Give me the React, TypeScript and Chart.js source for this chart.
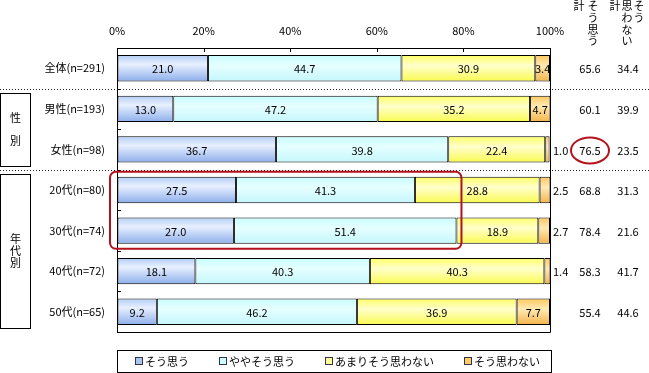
import { useEffect, useRef } from 'react';
import { Chart, registerables } from 'chart.js';

Chart.register(...registerables);

// ---------- data ----------
const categories = ['全体(n=291)', '男性(n=193)', '女性(n=98)', '20代(n=80)', '30代(n=74)', '40代(n=72)', '50代(n=65)'];
const seriesNames = ['そう思う', 'ややそう思う', 'あまりそう思わない', 'そう思わない'];
const soOmou = [21.0, 13.0, 36.7, 27.5, 27.0, 18.1, 9.2];
const yayaSoOmou = [44.7, 47.2, 39.8, 41.3, 51.4, 40.3, 46.2];
const amariSoOmowanai = [30.9, 35.2, 22.4, 28.8, 18.9, 40.3, 36.9];
const soOmowanai = [3.4, 4.7, 1.0, 2.5, 2.7, 1.4, 7.7];
const totalSoOmou = [65.6, 60.1, 76.5, 68.8, 78.4, 58.3, 55.4];
const totalSoOmowanai = [34.4, 39.9, 23.5, 31.3, 21.6, 41.7, 44.6];
const xTickValues = [0, 20, 40, 60, 80, 100];
const headerYesColumns = ['計', 'そう思う'];
const headerNoColumns = ['計', '思わない', 'そう'];
const groupLabels = ['性別', '年代別'];
const groupRows = [[1, 2], [3, 6]];
const separatorAfterRows = [0, 2];
const highlightRows = [3, 4];
const circledRow = 2;

// ---------- styles ----------
const FONT = '"Noto Sans CJK JP", "Noto Sans", sans-serif';
const BAR_PCT = 0.65;
const RED = '#b3121c';
const gradients: [number, string][][] = [
  [[0, '#b2cdf4'], [0.35, '#e8f0ff'], [1, '#8daeea']],
  [[0, '#c8fcff'], [0.4, '#e6ffff'], [1, '#c4f6fc']],
  [[0, '#ffff66'], [0.4, '#ffffcc'], [1, '#fafa50']],
  [[0, '#ffc85e'], [0.4, '#ffeab4'], [1, '#f3b44a']],
];
const legendColors = ['#a9c6f0', '#ccffff', '#ffff99', '#ffcc66'];

const makeBg = (di: number) => (c: any) => {
  const chart = c.chart;
  const ys = chart.scales?.y;
  if (!chart.chartArea || !ys || c.type !== 'data') return legendColors[di];
  const cy = ys.getPixelForValue(c.dataIndex);
  const h = Math.abs(ys.getPixelForValue(1) - ys.getPixelForValue(0)) * BAR_PCT;
  const g = chart.ctx.createLinearGradient(0, cy - h / 2, 0, cy + h / 2);
  gradients[di].forEach(([o, col]) => g.addColorStop(o, col));
  return g;
};

const overlay = {
  id: 'overlay',
  afterDraw(chart: any) {
    const ctx: CanvasRenderingContext2D = chart.ctx;
    const xs = chart.scales.x;
    const ys = chart.scales.y;
    const a = chart.chartArea;
    const W = chart.width;
    const pitch = Math.abs(ys.getPixelForValue(1) - ys.getPixelForValue(0));
    const rowTop = (i: number) => ys.getPixelForValue(i) - pitch / 2;
    const rowBottom = (i: number) => ys.getPixelForValue(i) + pitch / 2;
    const px = (v: number) => Math.round(v) + 0.5;
    ctx.save();
    ctx.strokeStyle = '#000';
    ctx.lineWidth = 1;
    ctx.setLineDash([]);
    // right & bottom border
    ctx.beginPath();
    ctx.moveTo(px(a.right), px(a.top));
    ctx.lineTo(px(a.right), px(a.bottom));
    ctx.lineTo(px(a.left), px(a.bottom));
    ctx.stroke();
    // inward x ticks
    ctx.beginPath();
    xTickValues.slice(1, -1).forEach((v) => {
      const x = px(xs.getPixelForValue(v));
      ctx.moveTo(x, a.top);
      ctx.lineTo(x, a.top + 4);
    });
    // inward y ticks
    for (let i = 0; i < categories.length - 1; i++) {
      const y = px(rowBottom(i));
      ctx.moveTo(a.left, y);
      ctx.lineTo(a.left + 4, y);
    }
    ctx.stroke();

    // dotted separators
    ctx.strokeStyle = '#222';
    ctx.setLineDash([1, 2]);
    ctx.beginPath();
    separatorAfterRows.forEach((r) => {
      const y = px(rowBottom(r));
      ctx.moveTo(0, y);
      ctx.lineTo(W, y);
    });
    ctx.stroke();
    ctx.setLineDash([]);

    // data labels
    ctx.fillStyle = '#000';
    ctx.font = `11px ${FONT}`;
    ctx.textBaseline = 'middle';
    chart.data.datasets.forEach((ds: any, di: number) => {
      const meta = chart.getDatasetMeta(di);
      meta.data.forEach((bar: any, i: number) => {
        const v = ds.data[i];
        const txt = v.toFixed(1);
        if (v < 3) {
          ctx.textAlign = 'left';
          ctx.fillText(txt, a.right + 3, bar.y + 1);
        } else {
          ctx.textAlign = 'center';
          ctx.fillText(txt, (bar.x + bar.base) / 2, bar.y + 1);
        }
      });
    });

    // right columns
    const colYes = a.right + 40;
    const colNo = a.right + 78;
    ctx.textAlign = 'center';
    categories.forEach((_, i) => {
      const y = ys.getPixelForValue(i) + 1;
      ctx.fillText(totalSoOmou[i].toFixed(1), colYes, y);
      ctx.fillText(totalSoOmowanai[i].toFixed(1), colNo, y);
    });
    // vertical headers
    const vText = (s: string, x: number, y0: number) => {
      Array.from(s).forEach((ch, k) => ctx.fillText(ch, x, y0 + k * 11.7));
    };
    headerYesColumns.forEach((s, k) => vText(s, colYes - 11 + k * 14, 6));
    headerNoColumns.forEach((s, k) => vText(s, colNo - 13 + k * 12, 6));

    // group boxes
    groupLabels.forEach((lab, g) => {
      const [r0, r1] = groupRows[g];
      const top = rowTop(r0) + 4;
      const bottom = rowBottom(r1) - 4;
      ctx.strokeStyle = '#000';
      ctx.strokeRect(0.5, px(top), 30, Math.round(bottom - top));
      const n = lab.length;
      const cy = (top + bottom) / 2;
      const sp = n === 2 ? 23 : 12;
      Array.from(lab).forEach((ch, k) => {
        ctx.fillText(ch, 15.5, cy + (k - (n - 1) / 2) * sp);
      });
    });

    // red highlight rectangle
    ctx.strokeStyle = RED;
    ctx.lineWidth = 2;
    const hTop = rowTop(highlightRows[0]) + 2;
    const hBottom = rowBottom(highlightRows[highlightRows.length - 1]) - 2;
    const maxEnd = Math.max(...highlightRows.map((r) => soOmou[r] + yayaSoOmou[r]));
    const hLeft = a.left - 7;
    const hRight = xs.getPixelForValue(maxEnd) + 5;
    ctx.beginPath();
    ctx.roundRect(hLeft, hTop, hRight - hLeft, hBottom - hTop, 6);
    ctx.stroke();
    // red ellipse
    ctx.beginPath();
    ctx.ellipse(colYes, ys.getPixelForValue(circledRow) + 1, 19, 13, 0, 0, Math.PI * 2);
    ctx.stroke();

    // legend
    ctx.lineWidth = 1;
    ctx.strokeStyle = '#000';
    const lTop = a.bottom + 18;
    const lH = 22;
    ctx.strokeRect(px(a.left), px(lTop), Math.round(a.right - a.left + 1), lH);
    const gap = 30;
    const widths = seriesNames.map((s) => 10 + ctx.measureText(s).width);
    const total = widths.reduce((s, w) => s + w, 0) + gap * (widths.length - 1);
    let x = (a.left + a.right) / 2 - total / 2 + 4;
    const ly = lTop + lH / 2;
    ctx.textAlign = 'left';
    seriesNames.forEach((s, i) => {
      ctx.fillStyle = legendColors[i];
      ctx.fillRect(px(x), px(ly - 4), 7, 7);
      ctx.strokeStyle = '#334';
      ctx.strokeRect(px(x), px(ly - 4), 7, 7);
      ctx.fillStyle = '#000';
      ctx.fillText(s, x + 10, ly + 1);
      x += widths[i] + gap;
    });
    ctx.restore();
  },
};

export default function App() {
  const ref = useRef<HTMLCanvasElement | null>(null);
  useEffect(() => {
    if (!ref.current) return;
    const seriesData = [soOmou, yayaSoOmou, amariSoOmowanai, soOmowanai];
    const chart = new Chart(ref.current, {
      type: 'bar',
      data: {
        labels: categories,
        datasets: seriesData.map((d, di) => ({
          label: seriesNames[di],
          data: d,
          backgroundColor: makeBg(di),
          borderColor: '#000',
          borderWidth: 1,
          borderSkipped: false,
          barPercentage: BAR_PCT,
          categoryPercentage: 1,
        })),
      },
      options: {
        indexAxis: 'y',
        responsive: false,
        animation: false,
        devicePixelRatio: 1,
        layout: { padding: { left: 0, top: 0, right: 99, bottom: 41 } },
        plugins: { legend: { display: false }, tooltip: { enabled: false } },
        scales: {
          x: {
            position: 'top',
            stacked: true,
            min: 0,
            max: 100,
            afterFit: (s: any) => { s.height = 48; },
            afterBuildTicks: (s: any) => { s.ticks = xTickValues.map((v) => ({ value: v })); },
            ticks: {
              callback: (v: any) => `${v}%`,
              color: '#000',
              font: { size: 11, family: FONT },
              padding: 11,
              maxRotation: 0,
            },
            grid: { drawOnChartArea: false, drawTicks: false },
            border: { display: true, color: '#000', width: 1 },
          },
          y: {
            stacked: true,
            afterFit: (s: any) => { s.width = 117; },
            ticks: {
              color: '#000',
              font: { size: 11, family: FONT },
              padding: 12,
            },
            grid: { drawOnChartArea: false, drawTicks: false },
            border: { display: true, color: '#000', width: 1 },
          },
        },
      },
      plugins: [overlay],
    });
    return () => chart.destroy();
  }, []);
  return (
    <div style={{ position: 'absolute', left: 0, top: 0, width: 649, height: 373, background: '#fff' }}>
      <canvas ref={ref} width={649} height={373} style={{ display: 'block' }} />
    </div>
  );
}
